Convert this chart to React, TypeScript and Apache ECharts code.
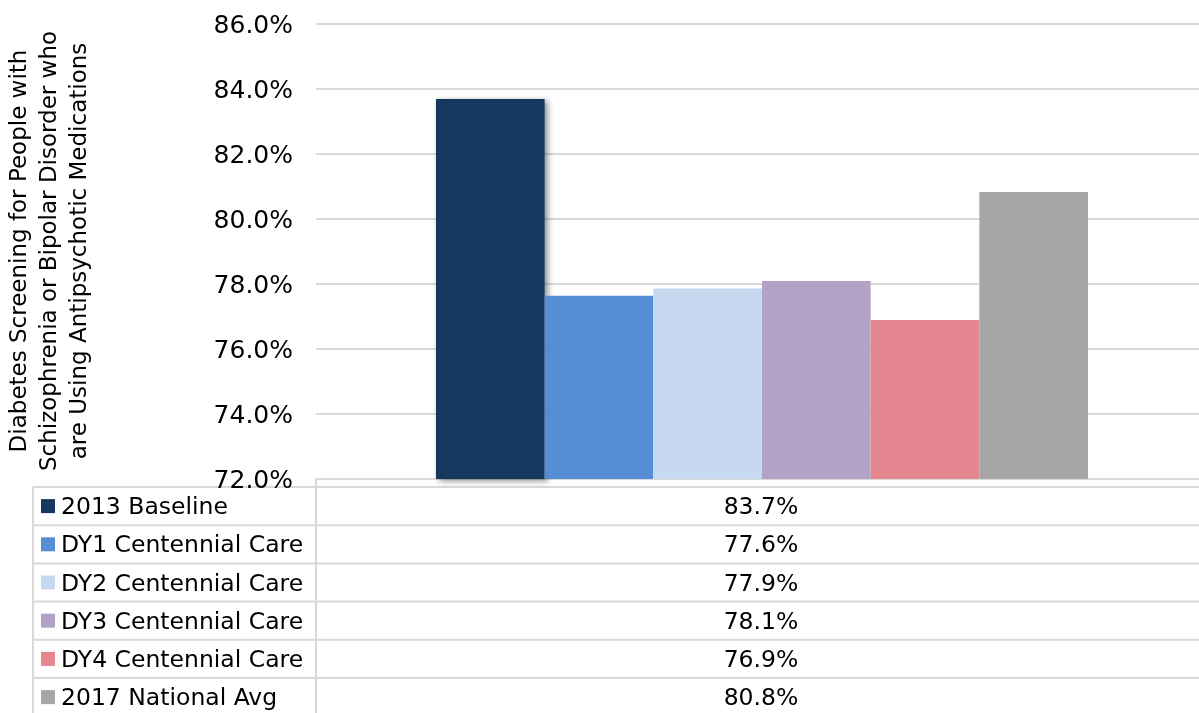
import React, { useEffect, useRef } from "react";
import * as echarts from "echarts";

const seriesNames = [
  "2013 Baseline",
  "DY1 Centennial Care",
  "DY2 Centennial Care",
  "DY3 Centennial Care",
  "DY4 Centennial Care",
  "2017 National Avg",
];
const seriesValues = [83.69, 77.64, 77.86, 78.09, 76.89, 80.83];
const seriesColors = ["#17375E", "#558ED5", "#C6D9F1", "#B3A2C7", "#E4868F", "#A6A6A6"];
const yTitle = "Diabetes Screening for People with\nSchizophrenia or Bipolar Disorder who\nare Using Antipsychotic Medications";
const yMin = 72;
const yMax = 86;
const yStep = 2;

const W = 1199;
const H = 713;
const FONT = "DejaVu Sans";
const LINE = "#D9D9D9";

export default function App() {
  const ref = useRef<HTMLDivElement>(null);
  useEffect(() => {
    if (!ref.current) return;
    const chart = echarts.init(ref.current, null, { renderer: "svg", width: W, height: H });
    const gridLeft = 316;
    const gridTop = 24;
    const gridBottomY = 479;
    const tableTop = 487;
    const rowH = 38.2;
    const tableLeft = 33;

    const graphics: any[] = [];
    for (let i = 0; i <= seriesNames.length; i++) {
      const y = tableTop + i * rowH;
      graphics.push({
        type: "line",
        shape: { x1: tableLeft, y1: y, x2: W, y2: y },
        style: { stroke: LINE, lineWidth: 2 },
        silent: true,
      });
    }
    graphics.push({
      type: "line",
      shape: { x1: tableLeft, y1: tableTop, x2: tableLeft, y2: H },
      style: { stroke: LINE, lineWidth: 2 },
    });
    graphics.push({
      type: "line",
      shape: { x1: gridLeft, y1: gridBottomY, x2: gridLeft, y2: H },
      style: { stroke: LINE, lineWidth: 2 },
    });
    seriesNames.forEach((name, i) => {
      const cy = tableTop + i * rowH + rowH / 2;
      graphics.push({
        type: "rect",
        shape: { x: 41, y: cy - 7, width: 14, height: 14 },
        style: { fill: seriesColors[i] },
      });
      graphics.push({
        type: "text",
        x: 61,
        y: cy,
        style: {
          text: name,
          font: `23.5px "${FONT}"`,
          fill: "#000",
          verticalAlign: "middle",
        },
      });
      graphics.push({
        type: "text",
        x: 761,
        y: cy,
        style: {
          text: seriesValues[i].toFixed(1) + "%",
          font: `23.5px "${FONT}"`,
          fill: "#000",
          align: "center",
          verticalAlign: "middle",
        },
      });
    });
    graphics.push({
      type: "text",
      x: 48,
      y: 251,
      rotation: Math.PI / 2,
      style: {
        text: yTitle,
        font: `23px "${FONT}"`,
        lineHeight: 30,
        fill: "#000",
        align: "center",
        verticalAlign: "middle",
      },
    });

    chart.setOption({
      animation: false,
      textStyle: { fontFamily: FONT },
      grid: {
        left: gridLeft,
        right: -9,
        top: gridTop,
        bottom: H - gridBottomY,
        containLabel: false,
        outerBoundsMode: "none",
      },
      xAxis: {
        type: "category",
        data: [""],
        axisLine: { show: true, lineStyle: { color: LINE, width: 2 } },
        axisTick: { show: false },
        axisLabel: { show: false },
      },
      yAxis: {
        type: "value",
        min: yMin,
        max: yMax,
        interval: yStep,
        axisLine: { show: false },
        axisTick: { show: false },
        axisLabel: {
          margin: 23,
          fontFamily: FONT,
          fontSize: 25,
          color: "#000",
          formatter: (v: number) => v.toFixed(1) + "%",
        },
        splitLine: { show: true, lineStyle: { color: LINE, width: 2 } },
      },
      series: seriesNames.map((name, i) => ({
        type: "bar",
        name,
        data: [seriesValues[i]],
        barGap: "0%",
        barCategoryGap: "26.9%",
        itemStyle: {
          color: seriesColors[i],
          ...(i === 0
            ? { shadowColor: "rgba(0,0,0,0.45)", shadowBlur: 6, shadowOffsetX: 3, shadowOffsetY: 2 }
            : {}),
        },
      })),
      graphic: graphics,
    });
    return () => chart.dispose();
  }, []);
  return <div ref={ref} style={{ position: "fixed", left: 0, top: 0, width: W, height: H }} />;
}
